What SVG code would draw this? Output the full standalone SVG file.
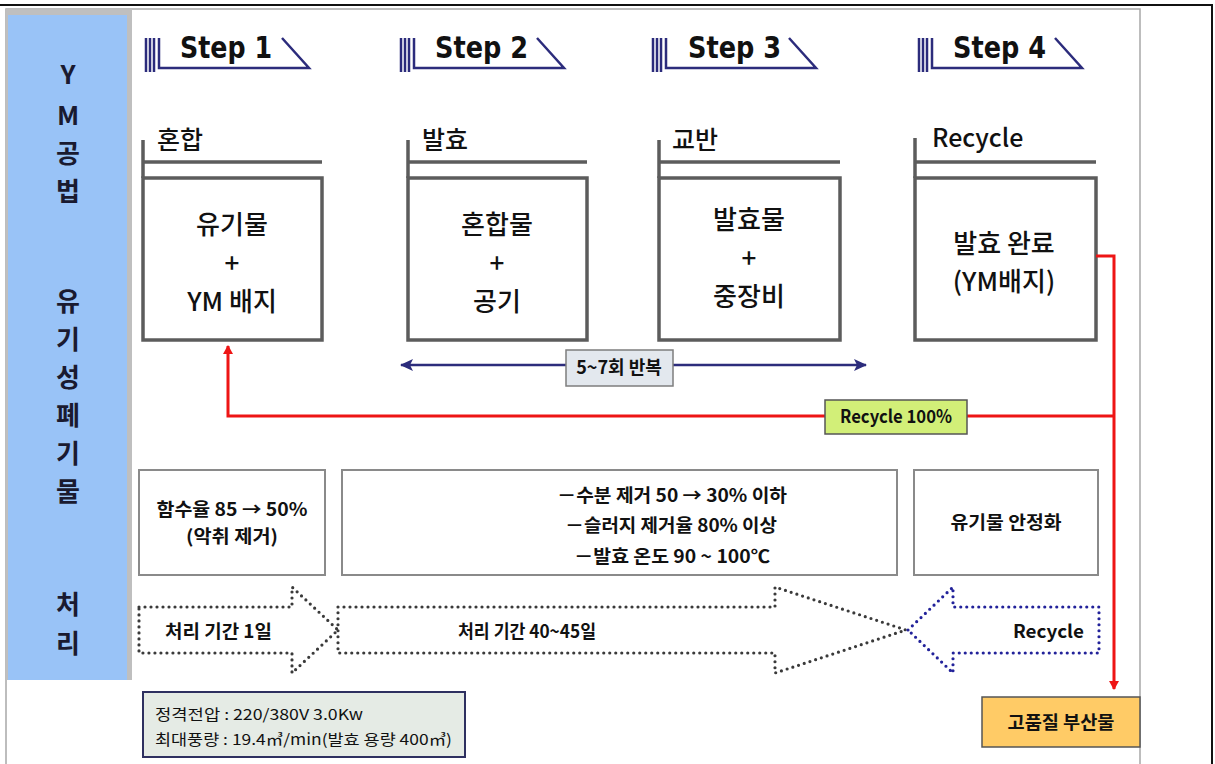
<svg xmlns="http://www.w3.org/2000/svg" width="1215" height="764" viewBox="0 0 1215 764">
<style>
.kr{font-family:"Noto Sans CJK KR","Noto Sans",sans-serif;fill:#111}
.step{font-family:"DejaVu Sans","Liberation Sans",sans-serif;font-weight:bold;font-size:30px;fill:#111}
.hdr{font-family:"Noto Sans CJK KR","Noto Sans",sans-serif;font-size:25px;font-weight:500;fill:#111}
.boxt{font-family:"Noto Sans CJK KR","Noto Sans",sans-serif;font-size:26px;font-weight:500;fill:#111;text-anchor:middle}
.bold{font-family:"Noto Sans CJK KR","Noto Sans",sans-serif;font-weight:bold;font-size:18px;fill:#111}
.mid{text-anchor:middle}
.gbox{fill:#fff;stroke:#5c5c5c;stroke-width:3.5}
.hline{stroke:#5c5c5c;stroke-width:3.5;fill:none}
.lbox{fill:#fff;stroke:#8a8a8a;stroke-width:2}
.navy{stroke:#2c2c7c;stroke-width:2.5;fill:none}
.red{stroke:#ee1515;stroke-width:3;fill:none}
.dotg{fill:none;stroke:#3a3a3a;stroke-width:3.2;stroke-dasharray:0 6;stroke-linecap:round}
.dotb{fill:none;stroke:#22229a;stroke-width:3.2;stroke-dasharray:0 6;stroke-linecap:round}
.side{font-family:"Noto Sans CJK KR","Noto Sans",sans-serif;font-size:26px;font-weight:bold;fill:#1a1a30;text-anchor:middle}
</style>
<defs>
<marker id="ra" markerWidth="10" markerHeight="10" refX="8" refY="5" orient="auto" markerUnits="userSpaceOnUse">
<path d="M0,0 L9,5 L0,10 Z" fill="#ee1515"/>
</marker>
<marker id="na" markerWidth="14" markerHeight="12" refX="12" refY="6" orient="auto-start-reverse" markerUnits="userSpaceOnUse">
<path d="M0,0 L13,6 L0,12 L3,6 Z" fill="#2c2c7c"/>
</marker>
<g id="stephead">
<path class="navy" d="M1,0 V34 M5,0 V34 M9,0 V34" stroke-width="2"/>
<path class="navy" d="M14,0 V30 H164 L137,0" stroke-width="2.5"/>
</g>
</defs>

<!-- frame -->
<rect x="0" y="0" width="1215" height="764" fill="#fff"/>
<path d="M0,5 H1212 V764" fill="none" stroke="#111" stroke-width="2"/>
<path d="M6,764 V9 H1140 V764" fill="none" stroke="#a8a8a8" stroke-width="1.5"/>

<!-- side panel -->
<g id="side">
<rect x="6" y="9" width="126" height="671" fill="#bfbfbf"/>
<rect x="8" y="15" width="119" height="665" fill="#99c3f7"/>
<text class="side" x="68" y="84">Y</text>
<text class="side" x="68" y="125">M</text>
<text class="side" x="68" y="163">공</text>
<text class="side" x="68" y="201">법</text>
<text class="side" x="68" y="311">유</text>
<text class="side" x="68" y="349">기</text>
<text class="side" x="68" y="387">성</text>
<text class="side" x="68" y="425">폐</text>
<text class="side" x="68" y="463">기</text>
<text class="side" x="68" y="501">물</text>
<text class="side" x="68" y="614">처</text>
<text class="side" x="68" y="653">리</text>
</g>

<!-- step headers -->
<g id="step1"><use href="#stephead" x="145" y="38"/><text class="step" x="180" y="58" textLength="92" lengthAdjust="spacingAndGlyphs">Step 1</text></g>
<g id="step2"><use href="#stephead" x="400" y="38"/><text class="step" x="435" y="58" textLength="93" lengthAdjust="spacingAndGlyphs">Step 2</text></g>
<g id="step3"><use href="#stephead" x="652" y="38"/><text class="step" x="688" y="58" textLength="93" lengthAdjust="spacingAndGlyphs">Step 3</text></g>
<g id="step4"><use href="#stephead" x="918" y="38"/><text class="step" x="953" y="58" textLength="93" lengthAdjust="spacingAndGlyphs">Step 4</text></g>

<!-- stage boxes -->
<g id="mix">
<text class="hdr" x="157" y="149">혼합</text>
<path class="hline" d="M143,140 V178 M143,162 H322"/>
<rect class="gbox" x="143" y="178" width="179" height="162"/>
<text class="boxt" x="232" y="234">유기물</text>
<text class="boxt" x="232" y="273">+</text>
<text class="boxt" x="232" y="311">YM 배지</text>
</g>
<g id="ferment">
<text class="hdr" x="422" y="149">발효</text>
<path class="hline" d="M408,140 V178 M408,162 H587"/>
<rect class="gbox" x="408" y="178" width="179" height="162"/>
<text class="boxt" x="497" y="234">혼합물</text>
<text class="boxt" x="497" y="273">+</text>
<text class="boxt" x="497" y="311">공기</text>
</g>
<g id="stir">
<text class="hdr" x="672" y="149">교반</text>
<path class="hline" d="M659,140 V178 M659,162 H840"/>
<rect class="gbox" x="659" y="178" width="181" height="162"/>
<text class="boxt" x="749" y="229">발효물</text>
<text class="boxt" x="749" y="268">+</text>
<text class="boxt" x="749" y="306">중장비</text>
</g>
<g id="recycle">
<text class="hdr" x="932" y="147">Recycle</text>
<path class="hline" d="M915,138 V178 M915,162 H1096"/>
<rect class="gbox" x="915" y="178" width="181" height="162"/>
<text class="boxt" x="1004" y="253">발효 완료</text>
<text class="boxt" x="1004" y="291">(YM배지)</text>
</g>

<!-- connectors -->
<g id="connectors">
<path class="navy" d="M401,365 H866" stroke-width="3" marker-start="url(#na)" marker-end="url(#na)"/>
<path class="red" d="M1096,256 H1114 V689" marker-end="url(#ra)"/>
<path class="red" d="M1114,416 H228 V346" marker-end="url(#ra)"/>
</g>

<g id="repeat">
<rect x="566" y="350" width="107" height="36" fill="#e3e8ee" stroke="#7e7e7e" stroke-width="1.5"/>
<text class="bold mid" x="619" y="374" font-size="16">5~7회 반복</text>
</g>
<g id="recycle100">
<rect x="825" y="400" width="142" height="34" fill="#d2ef78" stroke="#555" stroke-width="1.5"/>
<text class="bold mid" x="896" y="423" font-size="16" textLength="112" lengthAdjust="spacingAndGlyphs">Recycle 100%</text>
</g>

<!-- lower description boxes -->
<g id="desc1">
<rect class="lbox" x="139" y="470" width="186" height="105"/>
<text class="bold mid" x="232" y="516" textLength="151" lengthAdjust="spacingAndGlyphs">함수율 85 → 50%</text>
<text class="bold mid" x="232" y="543" textLength="92" lengthAdjust="spacingAndGlyphs">(악취 제거)</text>
</g>
<g id="desc2">
<rect class="lbox" x="342" y="470" width="555" height="105"/>
<text class="bold mid" x="672" y="502" textLength="230" lengthAdjust="spacingAndGlyphs">－수분 제거 50 → 30% 이하</text>
<text class="bold mid" x="671" y="532" textLength="212" lengthAdjust="spacingAndGlyphs">－슬러지 제거율 80% 이상</text>
<text class="bold mid" x="672" y="563" textLength="196" lengthAdjust="spacingAndGlyphs">－발효 온도 90 ~ 100℃</text>
</g>
<g id="desc3">
<rect class="lbox" x="914" y="470" width="184" height="105"/>
<text class="bold mid" x="1006" y="529" textLength="111" lengthAdjust="spacingAndGlyphs">유기물 안정화</text>
</g>

<!-- period arrows -->
<g id="period1">
<path class="dotg" d="M139,607 H292 V587 L338,630 L292,673 V653 H139 Z"/>
<text class="bold" x="165" y="638" textLength="107" lengthAdjust="spacingAndGlyphs">처리 기간 1일</text>
</g>
<g id="period2">
<path class="dotg" d="M338,607 H775 V587 L906,630 L775,673 V653 H338 Z"/>
<text class="bold" x="458" y="638" textLength="138" lengthAdjust="spacingAndGlyphs">처리 기간 40~45일</text>
</g>
<g id="period3">
<path class="dotb" d="M908,630 L953,587 V607 H1099 V653 H953 V673 Z"/>
<text class="bold" x="1013" y="638" textLength="71" lengthAdjust="spacingAndGlyphs">Recycle</text>
</g>

<!-- spec box -->
<g id="spec">
<rect x="143" y="692" width="322" height="65" fill="#e5ebe5" stroke="#2e3060" stroke-width="2"/>
<text class="kr" x="155" y="720" font-size="15" textLength="208" lengthAdjust="spacingAndGlyphs">정격전압 : 220/380V 3.0Kw</text>
<text class="kr" x="155" y="745" font-size="15" textLength="297" lengthAdjust="spacingAndGlyphs">최대풍량 : 19.4㎥/min(발효 용량 400㎥)</text>
</g>

<!-- byproduct -->
<g id="byproduct">
<rect x="982" y="697" width="158" height="50" fill="#ffcb66" stroke="#555" stroke-width="1.5"/>
<text class="bold mid" x="1061" y="729" font-size="17" textLength="107" lengthAdjust="spacingAndGlyphs">고품질 부산물</text>
</g>
</svg>
